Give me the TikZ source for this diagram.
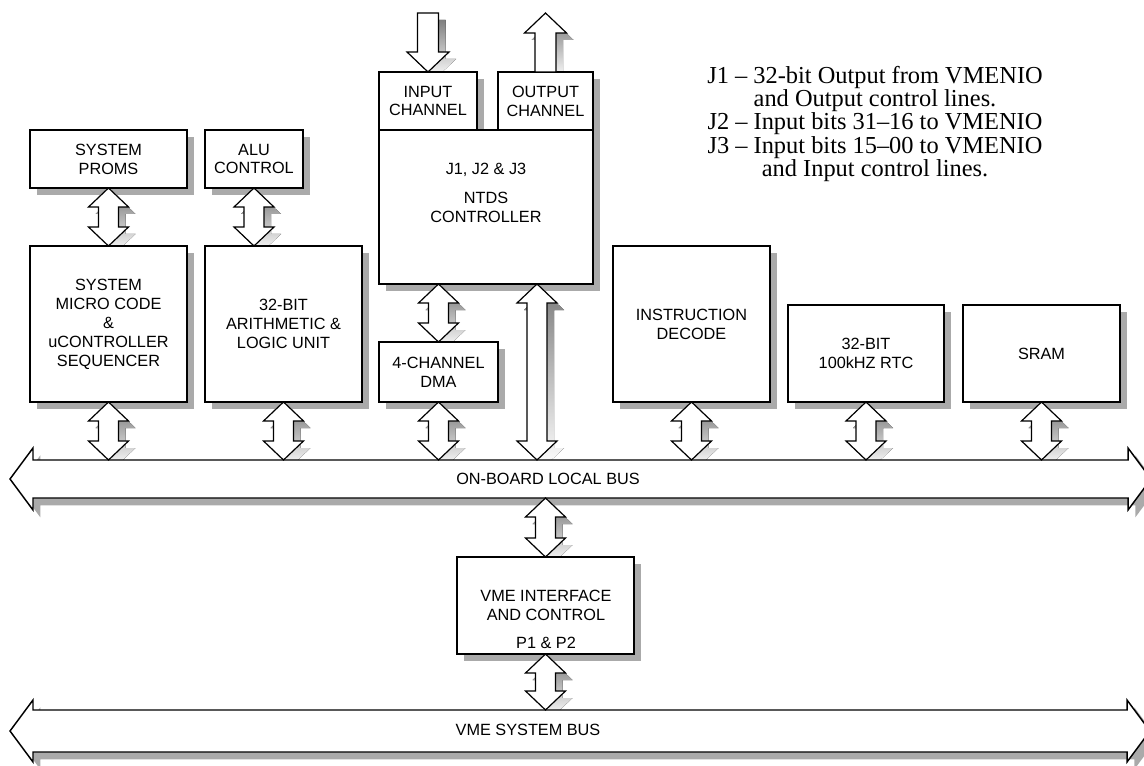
\documentclass[tikz,border=0pt]{standalone}
\usepackage{tikz}
\usepackage{fontspec}
\setmainfont{Liberation Serif}
\setsansfont{Liberation Sans}
\usetikzlibrary{calc,shadows}
\definecolor{shade}{RGB}{170,170,170}
\pgfdeclarelayer{background}
\pgfsetlayers{background,main}

% vertical double block arrow from #1 down to #2, moved by #3
\newcommand{\dblpath}[3]{($(#1)+(#3)$) -- ++(20,19) -- ++(-10,0) -- ($(#2)+(#3)+(10,-19)$) -- ++(10,0) -- ($(#2)+(#3)$) -- ++(-20,-19) -- ++(10,0) -- ($(#1)+(#3)+(-10,19)$) -- ++(-10,0) -- cycle}
\newcommand{\dblarrow}[2]{%
  \begin{pgfonlayer}{background}\fill[shade] \dblpath{#1}{#2}{7,7};\end{pgfonlayer}
  \draw[arr] \dblpath{#1}{#2}{0,0};}

\begin{document}
\begin{tikzpicture}[x=0.75pt,y=0.75pt,yscale=-1,xscale=1,
  shadowed/.style={drop shadow={shadow xshift=5.5pt, shadow yshift=-5.5pt, fill=shade, opacity=1}},
  box/.style={draw, line width=1.1pt, fill=white, inner sep=0pt, outer sep=0pt, anchor=north west, align=center, font=\sffamily\fontsize{12.2}{14.2}\selectfont, shadowed},
  size/.style 2 args={minimum width={#1*0.75pt}, minimum height={#2*0.75pt}},
  txt/.style={inner sep=0pt, align=center, font=\sffamily\fontsize{12.2}{14.2}\selectfont},
  bus/.style={draw, line width=1.1pt, fill=white, shadowed},
  arr/.style={draw, line width=0.9pt, fill=white}]
\useasboundingbox (0,0) rectangle (1144,766);

%Shape: Local bus
\draw[bus] (33,460) -- (1128,460) -- (1128,448) -- (1151,479) -- (1128,510) -- (1128,498) -- (33,498) -- (33,510) -- (10,479) -- (33,448) -- cycle;
%Shape: VME bus
\draw[bus] (33,710) -- (1127,710) -- (1127,700) -- (1150,731) -- (1127,762) -- (1127,752) -- (33,752) -- (33,762) -- (10,731) -- (33,700) -- cycle;
\coordinate (lbtop) at (0,460);
\coordinate (lbbot) at (0,498);
\coordinate (vbtop) at (0,710);
% Text Node
\node[txt] (lbus) at (548,479) {ON-BOARD LOCAL BUS};
% Text Node
\node[txt] (vbus) at (528,730) {VME SYSTEM BUS};

%Shape: Rectangle
\node[box, size={157}{58}] (proms) at (30,130) {SYSTEM\\PROMS};
\node[box, size={98}{58}] (aluctl) at (205,130) {ALU\\CONTROL};
\node[box, size={157}{156}] (micro) at (30,246) {SYSTEM\\MICRO CODE\\\&\\uCONTROLLER\\SEQUENCER};
\node[box, size={157}{156}] (alu) at (205,246) {32-BIT\\ARITHMETIC \&\\LOGIC UNIT};
\node[box, size={98}{58}] (inch) at (379,72) {INPUT\\CHANNEL};
\node[box, size={95}{58}] (outch) at (498,72) {OUTPUT\\CHANNEL};
\node[box, size={214}{154}] (ntds) at (379,130) {};
\node[box, size={119}{60}] (dma) at (379,342) {4-CHANNEL\\DMA};
\node[box, size={157}{156}] (idec) at (613,246) {INSTRUCTION\\DECODE};
\node[box, size={156}{97}] (rtc) at (788,305) {32-BIT\\100kHZ RTC};
\node[box, size={157}{97}] (sram) at (963,305) {SRAM};
\node[box, size={177}{97}] (vme) at (457,557) {};
\coordinate (ntdsout) at ($(ntds.south west)+(158,0)$);

% Text Node
\node[txt] (ntdstxt) at (486,193) {J1, J2 \& J3\\[8pt]NTDS\\CONTROLLER};
% Text Node
\node[txt] (vmetxt) at (546,605) {VME INTERFACE\\AND CONTROL};
% Text Node
\node[txt] (vmeport) at (546,643) {P1 \& P2};
% Text Node
\node[inner sep=0pt, align=center, font=\rmfamily\fontsize{18.3}{17.3}\selectfont] (jlist) at (875,124) {J1 -- 32-bit Output from VMENIO\\and Output control lines.\\J2 -- Input bits 31--16 to VMENIO\\J3 -- Input bits 15--00 to VMENIO\\and Input control lines.};

%Shape: Channel arrows
\begin{pgfonlayer}{background}
\fill[shade] ($(inch.north)+(7,7)$) -- ++(21,-20) -- ++(-10.5,0) -- ++(0,-39) -- ++(-21,0) -- ++(0,39) -- ++(-10.5,0) -- cycle;
\fill[shade] ($(outch.north)+(17.5,7)$) -- ++(0,-39) -- ++(10.5,0) -- ++(-21,-20) -- ++(-21,20) -- ++(10.5,0) -- ++(0,39) -- cycle;
\end{pgfonlayer}
\draw[arr] (inch.north) -- ++(21,-20) -- ++(-10.5,0) -- ++(0,-39) -- ++(-21,0) -- ++(0,39) -- ++(-10.5,0) -- cycle;
\draw[arr] ($(outch.north)+(10.5,0)$) -- ++(0,-39) -- ++(10.5,0) -- ++(-21,-20) -- ++(-21,20) -- ++(10.5,0) -- ++(0,39) -- cycle;

%Shape: Double arrows
\dblarrow{proms.south}{micro.north}
\dblarrow{aluctl.south}{aluctl.south |- alu.north}
\dblarrow{dma.north |- ntds.south}{dma.north}
\dblarrow{ntdsout}{ntdsout |- lbtop}
\dblarrow{micro.south}{micro.south |- lbtop}
\dblarrow{alu.south}{alu.south |- lbtop}
\dblarrow{dma.south}{dma.south |- lbtop}
\dblarrow{idec.south}{idec.south |- lbtop}
\dblarrow{rtc.south}{rtc.south |- lbtop}
\dblarrow{sram.south}{sram.south |- lbtop}
\dblarrow{vme.north |- lbbot}{vme.north}
\dblarrow{vme.south}{vme.south |- vbtop}

\end{tikzpicture}
\end{document}
